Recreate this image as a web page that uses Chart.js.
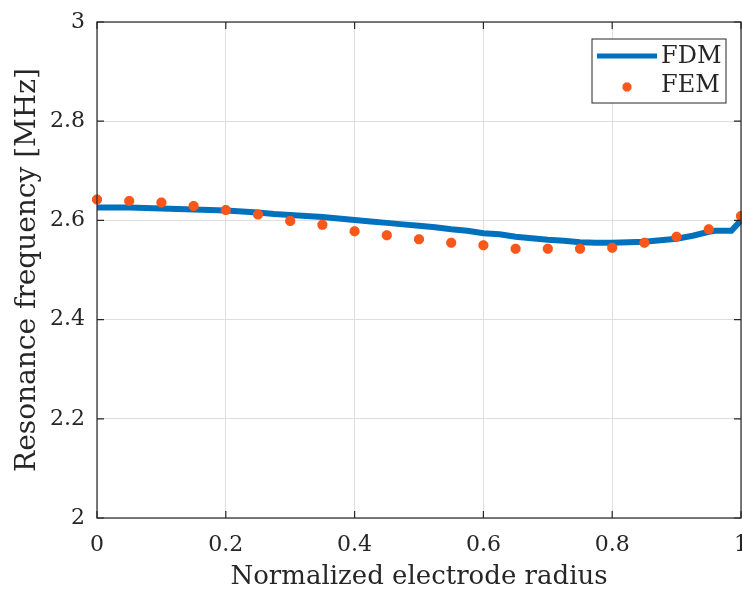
<!DOCTYPE html>
<html>
<head>
<meta charset="utf-8">
<script src="https://cdn.jsdelivr.net/npm/chart.js@4/dist/chart.umd.min.js"></script>
<style>
    html, body { margin: 0; padding: 0; background: #fff; }
    #wrap { width: 742px; height: 593px; }
</style>
</head>
<body>
<div id="wrap"><canvas id="resonance-graph" width="742" height="593"></canvas></div>
<script>
// FDM curve
const fdmRadius = [0, 0.025, 0.05, 0.075, 0.1, 0.125, 0.15, 0.175, 0.2, 0.225, 0.25, 0.275,
    0.3, 0.325, 0.35, 0.375, 0.4, 0.425, 0.45, 0.475, 0.5, 0.525, 0.55, 0.575, 0.6, 0.625,
    0.65, 0.675, 0.7, 0.725, 0.75, 0.775, 0.8, 0.825, 0.85, 0.875, 0.9, 0.925, 0.95, 0.96,
    0.985, 1.0];
const fdmFreq = [2.626, 2.626, 2.626, 2.625, 2.624, 2.623, 2.622, 2.621, 2.620, 2.618, 2.616, 2.613,
    2.611, 2.609, 2.607, 2.604, 2.601, 2.598, 2.595, 2.592, 2.589, 2.586, 2.582, 2.579, 2.574, 2.572,
    2.567, 2.564, 2.561, 2.559, 2.556, 2.555, 2.555, 2.556, 2.557, 2.560, 2.563, 2.569, 2.577, 2.579,
    2.579, 2.600];

// FEM points
const femRadius = [0, 0.05, 0.1, 0.15, 0.2, 0.25, 0.3, 0.35, 0.4, 0.45, 0.5, 0.55, 0.6, 0.65,
    0.7, 0.75, 0.8, 0.85, 0.9, 0.95, 1.0];
const femFreq = [2.642, 2.639, 2.636, 2.629, 2.621, 2.612, 2.599, 2.591, 2.578, 2.570, 2.562,
    2.555, 2.550, 2.543, 2.543, 2.543, 2.545, 2.555, 2.567, 2.582, 2.609];

const xTicks = [0, 0.2, 0.4, 0.6, 0.8, 1];
const xTickLabels = ["0", "0.2", "0.4", "0.6", "0.8", "1"];
const yTicks = [2, 2.2, 2.4, 2.6, 2.8, 3];
const yTickLabels = ["2", "2.2", "2.4", "2.6", "2.8", "3"];

const seriesNames = ["FDM", "FEM"];
const lineColor = "#0072BD";
const markColor = "#F9561A";
const inkColor = "#262626";
const serif = "'DejaVu Serif', 'Liberation Serif', serif";

// box + inward tick marks, like the matlab axes
const axesBox = {
    id: "axesBox",
    afterDraw(chart) {
        const ctx = chart.ctx;
        const a = chart.chartArea;
        const xs = chart.scales.x;
        const ys = chart.scales.y;
        ctx.save();
        ctx.strokeStyle = inkColor;
        ctx.lineWidth = 1.2;
        ctx.strokeRect(a.left, a.top, a.right - a.left, a.bottom - a.top);
        ctx.beginPath();
        xTicks.forEach((v) => {
            const px = xs.getPixelForValue(v);
            ctx.moveTo(px, a.bottom);
            ctx.lineTo(px, a.bottom - 7);
            ctx.moveTo(px, a.top);
            ctx.lineTo(px, a.top + 7);
        });
        yTicks.forEach((v) => {
            const py = ys.getPixelForValue(v);
            ctx.moveTo(a.left, py);
            ctx.lineTo(a.left + 7, py);
            ctx.moveTo(a.right, py);
            ctx.lineTo(a.right - 7, py);
        });
        ctx.stroke();
        ctx.restore();
    },
};

// legend box in the top right corner
const cornerLegend = {
    id: "cornerLegend",
    afterDraw(chart) {
        const ctx = chart.ctx;
        const a = chart.chartArea;
        const w = 134, h = 64;
        const x0 = a.right - 149;
        const y0 = a.top + 17;
        ctx.save();
        ctx.fillStyle = "#fff";
        ctx.fillRect(x0, y0, w, h);
        ctx.strokeStyle = inkColor;
        ctx.lineWidth = 1;
        ctx.strokeRect(x0, y0, w, h);

        // FDM entry
        ctx.strokeStyle = lineColor;
        ctx.lineWidth = 5;
        ctx.beginPath();
        ctx.moveTo(x0 + 5, y0 + 17);
        ctx.lineTo(x0 + 65, y0 + 17);
        ctx.stroke();

        // FEM entry
        ctx.strokeStyle = markColor;
        ctx.fillStyle = markColor;
        ctx.lineWidth = 3.5;
        Chart.helpers.drawPoint(ctx, {
            pointStyle: "star",
            radius: 4.5,
            borderWidth: 3.5,
        }, x0 + 35, y0 + 48);

        ctx.fillStyle = inkColor;
        ctx.font = "24px " + serif;
        ctx.textBaseline = "middle";
        ctx.fillText(seriesNames[0], x0 + 69, y0 + 18);
        ctx.fillText(seriesNames[1], x0 + 69, y0 + 47);
        ctx.restore();
    },
};

const ctx = document.getElementById("resonance-graph").getContext("2d");
const resonanceChart = new Chart(ctx, {
    type: "scatter",
    data: {
        datasets: [
            {
                label: seriesNames[0],
                data: fdmRadius.map((r, i) => ({ x: r, y: fdmFreq[i] })),
                showLine: true,
                borderColor: lineColor,
                backgroundColor: lineColor,
                borderWidth: 6,
                pointRadius: 0,
                tension: 0,
                order: 2,
            },
            {
                label: seriesNames[1],
                data: femRadius.map((r, i) => ({ x: r, y: femFreq[i] })),
                showLine: false,
                pointStyle: "star",
                pointRadius: 5,
                borderWidth: 3.5,
                borderColor: markColor,
                backgroundColor: markColor,
                order: 1,
            },
        ],
    },
    options: {
        responsive: false,
        animation: false,
        clip: false,
        layout: { autoPadding: false, padding: { top: 22, right: 1, left: 0, bottom: 0 } },
        plugins: {
            legend: { display: false },
            tooltip: { enabled: false },
        },
        scales: {
            x: {
                type: "linear",
                min: 0,
                max: 1,
                afterBuildTicks: (axis) => {
                    axis.ticks = xTicks.map((v) => ({ value: v }));
                },
                afterFit: (axis) => {
                    axis.height = 75;
                    axis.paddingLeft = 0;
                    axis.paddingRight = 0;
                },
                ticks: {
                    color: inkColor,
                    font: { family: serif, size: 22 },
                    padding: 14,
                    maxRotation: 0,
                    callback: (v) => xTickLabels[xTicks.indexOf(v)],
                },
                grid: { color: "#dedede", lineWidth: 1, tickLength: 0 },
                border: { display: false },
                title: {
                    display: true,
                    text: "Normalized electrode radius",
                    color: inkColor,
                    font: { family: serif, size: 26 },
                    padding: { top: 0, bottom: 0 },
                },
            },
            y: {
                type: "linear",
                min: 2,
                max: 3,
                afterBuildTicks: (axis) => {
                    axis.ticks = yTicks.map((v) => ({ value: v }));
                },
                afterFit: (axis) => {
                    axis.width = 97;
                    axis.paddingTop = 0;
                    axis.paddingBottom = 0;
                },
                ticks: {
                    color: inkColor,
                    font: { family: serif, size: 22 },
                    padding: 12,
                    callback: (v) => yTickLabels[yTicks.indexOf(v)],
                },
                grid: { color: "#dedede", lineWidth: 1, tickLength: 0 },
                border: { display: false },
                title: {
                    display: true,
                    text: "Resonance frequency [MHz]",
                    color: inkColor,
                    font: { family: serif, size: 28 },
                    padding: { top: 11, bottom: 0 },
                },
            },
        },
    },
    plugins: [axesBox, cornerLegend],
});
</script>
</body>
</html>
